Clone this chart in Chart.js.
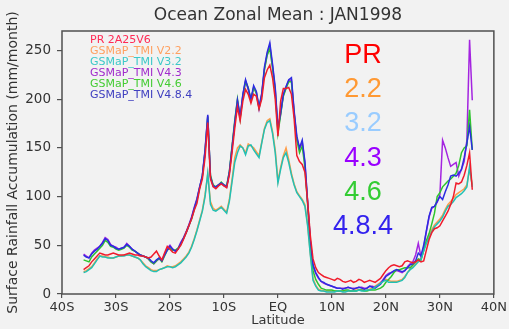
<!DOCTYPE html>
<html>
<head>
<meta charset="utf-8">
<title>Ocean Zonal Mean : JAN1998</title>
<script src="https://cdn.jsdelivr.net/npm/chart.js@4.4.1/dist/chart.umd.min.js"></script>
<style>
    html, body { margin: 0; padding: 0; background: #f2f2f2; }
    #zonalChart { display: block; }
</style>
</head>
<body>
<canvas id="zonalChart" width="509" height="329"></canvas>
<script>
// Latitude grid, 0.5 degree steps from 36S to 36N
const lats = Array.from({ length: 145 }, (_, i) => -36 + i * 0.5);

// Axis ticks
const xTicks = [-40, -30, -20, -10, 0, 10, 20, 30, 40];
const xTickLabels = ['40S', '30S', '20S', '10S', 'EQ', '10N', '20N', '30N', '40N'];
const yTicks = [0, 50, 100, 150, 200, 250];

// Zonal mean rainfall (mm/month), 36S -> 36N
const pr = [
    25, 27, 29, 33, 36, 39, 42, 41, 40, 40, 41, 42, 41, 40, 40, 40, 41, 42, 41, 40, 40, 39,
    39, 38, 37, 38, 41, 44, 39, 35, 42, 49, 46, 43, 42, 46, 50, 56, 63, 70, 77, 86, 93,
    108, 118, 140, 176, 118, 110, 108, 111, 113, 111, 109, 122, 145, 170, 192, 178, 198, 210, 205, 196, 205, 203,
    190, 200, 222, 230, 235, 222, 200, 162, 198, 211, 211, 212, 205, 180, 142, 136, 133, 125, 95, 60, 36,
    27, 22, 20, 18, 17, 16, 15, 14, 16, 15, 13, 12, 13, 14, 12, 13, 15, 14, 12, 13, 14, 13, 12, 14, 16,
    20, 24, 27, 29, 30, 29, 28, 29, 33, 34, 33, 32, 33, 35, 33, 34, 45, 56, 63, 67, 68, 70, 75, 80, 85,
    92, 100, 114, 113, 115, 122, 132, 145, 107
];
const v22 = [
    23, 24, 26, 28, 32, 36, 39, 39, 38, 38, 37, 37, 38, 39, 39, 40, 40, 40, 39, 38, 37, 35,
    32, 29, 27, 25, 24, 24, 25, 26, 27, 29, 28, 28, 29, 31, 33, 36, 39, 43, 49, 57, 66,
    76, 86, 102, 123, 95, 88, 86, 88, 90, 87, 84, 97, 118, 140, 150, 153, 150, 145, 154, 152, 150, 146,
    142, 156, 170, 178, 180, 167, 148, 116, 130, 142, 150, 138, 124, 113, 105, 101, 97, 92, 72, 42, 16,
    9, 5, 4, 3, 3, 3, 3, 3, 3, 3, 3, 3, 3, 3, 4, 4, 4, 4, 4, 4, 5, 6, 8, 10, 12,
    14, 15, 14, 13, 13, 13, 14, 15, 18, 22, 26, 28, 31, 34, 36, 45, 53, 60, 66, 71, 74, 77, 81, 87, 92,
    95, 98, 102, 104, 106, 108, 112, 128, 112
];
const v32 = [
    22, 23, 25, 27, 31, 35, 39, 38, 38, 37, 37, 37, 38, 39, 39, 39, 40, 40, 39, 38, 37, 35,
    31, 28, 26, 24, 23, 23, 25, 26, 27, 28, 28, 27, 28, 30, 32, 35, 38, 42, 48, 56, 65,
    75, 85, 100, 124, 92, 86, 85, 87, 89, 86, 83, 95, 115, 135, 145, 152, 150, 143, 152, 153, 148, 144,
    140, 155, 169, 176, 178, 165, 145, 114, 128, 140, 145, 135, 122, 112, 104, 100, 96, 90, 70, 40, 14,
    8, 4, 3, 3, 2, 2, 2, 2, 3, 3, 2, 2, 3, 3, 3, 3, 4, 3, 3, 4, 4, 5, 7, 9, 11,
    13, 14, 12, 12, 12, 12, 13, 14, 17, 22, 25, 27, 30, 33, 35, 44, 52, 58, 64, 69, 72, 75, 79, 85, 90,
    92, 95, 99, 101, 103, 106, 110, 131, 110
];
const v43 = [
    41, 39, 37, 42, 45, 47, 49, 53, 58, 56, 51, 49, 48, 46, 47, 48, 52, 49, 46, 44, 42, 40,
    39, 38, 36, 33, 31, 34, 36, 34, 41, 47, 50, 46, 44, 47, 53, 58, 64, 71, 79, 89, 98,
    110, 121, 147, 183, 121, 111, 110, 112, 114, 111, 110, 124, 150, 175, 198, 181, 204, 219, 210, 199, 212, 207,
    190, 205, 231, 246, 255, 234, 210, 168, 185, 204, 212, 219, 220, 186, 160, 149, 156, 134, 94, 54, 29,
    21, 16, 13, 11, 10, 9, 8, 7, 6, 6, 6, 6, 7, 6, 6, 6, 7, 7, 6, 6, 8, 8, 7, 9, 11,
    15, 19, 21, 22, 23, 24, 23, 22, 24, 28, 31, 33, 40, 52, 38, 48, 64, 79, 88, 90, 94, 102, 158, 150, 140,
    131, 133, 135, 121, 128, 136, 158, 261, 199
];
const v46 = [
    35, 34, 33, 38, 41, 44, 47, 50, 55, 53, 49, 48, 46, 45, 46, 47, 50, 48, 45, 44, 42, 40,
    39, 38, 36, 33, 31, 34, 37, 33, 39, 45, 47, 45, 45, 47, 51, 57, 63, 70, 77, 87, 96,
    109, 121, 146, 182, 122, 112, 110, 112, 115, 112, 111, 126, 152, 178, 200, 180, 203, 218, 212, 199, 212, 206,
    191, 204, 230, 245, 252, 232, 208, 165, 184, 203, 211, 218, 218, 185, 158, 145, 152, 130, 92, 52, 24,
    15, 10, 6, 5, 4, 4, 4, 3, 3, 3, 3, 4, 4, 3, 3, 3, 4, 4, 3, 3, 4, 4, 4, 5, 6,
    8, 12, 15, 18, 22, 25, 25, 26, 27, 27, 27, 30, 33, 36, 35, 45, 55, 62, 72, 83, 100, 104, 110, 113, 116,
    118, 121, 124, 132, 145, 150, 152, 189, 148
];
const v484 = [
    40, 38, 37, 41, 44, 46, 49, 52, 57, 55, 50, 49, 47, 46, 47, 48, 51, 49, 46, 44, 42, 40,
    39, 38, 37, 34, 32, 35, 37, 34, 40, 45, 49, 46, 44, 46, 52, 57, 63, 70, 78, 88, 97,
    110, 122, 148, 184, 120, 111, 110, 112, 114, 112, 110, 125, 150, 176, 199, 182, 205, 220, 211, 200, 214, 208,
    192, 206, 233, 248, 258, 236, 212, 170, 186, 205, 213, 220, 222, 188, 162, 150, 158, 136, 95, 55, 30,
    22, 17, 13, 12, 10, 9, 8, 7, 6, 6, 5, 6, 7, 6, 5, 6, 7, 6, 5, 6, 8, 7, 6, 8, 10,
    14, 18, 20, 22, 24, 25, 24, 23, 24, 27, 30, 31, 34, 42, 39, 50, 65, 80, 89, 90, 95, 100, 97, 105, 112,
    121, 122, 121, 124, 128, 140, 155, 172, 148
];

// Product names, line colours and draw order (lower order is drawn on top)
const seriesNames = ['PR 2A25V6', 'GSMaP_TMI V2.2', 'GSMaP_TMI V3.2', 'GSMaP_TMI V4.3', 'GSMaP_TMI V4.6', 'GSMaP_TMI V4.8.4'];
const seriesValues = [pr, v22, v32, v43, v46, v484];
const seriesColors = ['#f01c2c', '#ff9c48', '#22c0b4', '#a424e0', '#2ec42e', '#2c2ce0'];
const legendColors = ['#ff2a55', '#ffa060', '#3cc8c8', '#a02ccc', '#44cc33', '#4040c0'];
const seriesOrder = [1, 6, 2, 5, 4, 3];

// Version tags printed large beside the curves
const versionTags = ['PR', '2.2', '3.2', '4.3', '4.6', '4.8.4'];
const tagColors = ['#ff0000', '#ff9933', '#99ccff', '#9900ff', '#33cc33', '#3322ee'];

const FONT = '"DejaVu Sans", sans-serif';

const datasets = seriesNames.map((name, s) => ({
    label: name,
    data: lats.map((lat, i) => ({ x: lat, y: seriesValues[s][i] })),
    borderColor: seriesColors[s],
    borderWidth: 1.5,
    pointRadius: 0,
    tension: 0,
    fill: false,
    order: seriesOrder[s]
}));

// Background, plot frame and all free text
const decorations = {
    id: 'decorations',
    beforeDraw(chart) {
        const ctx = chart.ctx;
        ctx.save();
        ctx.fillStyle = '#f2f2f2';
        ctx.fillRect(0, 0, chart.width, chart.height);
        ctx.restore();
    },
    afterDraw(chart) {
        const ctx = chart.ctx;
        const a = chart.chartArea;
        ctx.save();

        // frame
        ctx.strokeStyle = '#505050';
        ctx.lineWidth = 1.5;
        ctx.strokeRect(a.left, a.top, a.right - a.left, a.bottom - a.top);

        // title
        ctx.fillStyle = '#333';
        ctx.font = '17px ' + FONT;
        ctx.textAlign = 'center';
        ctx.textBaseline = 'middle';
        ctx.fillText('Ocean Zonal Mean : JAN1998', (a.left + a.right) / 2, 16);

        // small legend, top left inside the frame
        ctx.font = '11px ' + FONT;
        ctx.textAlign = 'left';
        seriesNames.forEach((name, s) => {
            ctx.fillStyle = legendColors[s];
            ctx.fillText(name, a.left + 28, a.top + 9 + s * 11);
        });

        // big version tags
        ctx.font = '27px "Liberation Sans", Arial, sans-serif';
        ctx.textAlign = 'center';
        ctx.textBaseline = 'alphabetic';
        versionTags.forEach((tag, s) => {
            ctx.fillStyle = tagColors[s];
            ctx.fillText(tag, 363, a.top + 32 + s * 34.2);
        });

        ctx.restore();
    }
};

new Chart(document.getElementById('zonalChart'), {
    type: 'line',
    data: { datasets: datasets },
    options: {
        responsive: false,
        animation: false,
        devicePixelRatio: 1,
        layout: { padding: { left: 0, right: 13, top: 31, bottom: 0 } },
        plugins: {
            legend: { display: false },
            tooltip: { enabled: false }
        },
        scales: {
            x: {
                type: 'linear',
                min: -40,
                max: 40,
                afterFit(scale) { scale.height = 35; },
                afterBuildTicks(scale) { scale.ticks = xTicks.map(v => ({ value: v })); },
                ticks: {
                    color: '#333',
                    font: { family: FONT, size: 13 },
                    padding: 2,
                    maxRotation: 0,
                    callback: (value) => xTickLabels[xTicks.indexOf(value)]
                },
                grid: { drawOnChartArea: false, tickLength: 4, color: '#505050', lineWidth: 1.2 },
                border: { display: false },
                title: {
                    display: true,
                    text: 'Latitude',
                    color: '#333',
                    font: { family: FONT, size: 13 },
                    padding: { top: 0, bottom: 1 }
                }
            },
            y: {
                min: 0,
                max: 270,
                afterFit(scale) { scale.width = 62; },
                afterBuildTicks(scale) { scale.ticks = yTicks.map(v => ({ value: v })); },
                ticks: {
                    color: '#333',
                    font: { family: FONT, size: 13.5 },
                    padding: 6
                },
                grid: { drawOnChartArea: false, tickLength: 5, color: '#505050', lineWidth: 1.2 },
                border: { display: false },
                title: {
                    display: true,
                    text: 'Surface Rainfall Accumulation (mm/month)',
                    color: '#333',
                    font: { family: FONT, size: 14 },
                    padding: { top: 5, bottom: 0 }
                }
            }
        }
    },
    plugins: [decorations]
});
</script>
</body>
</html>
